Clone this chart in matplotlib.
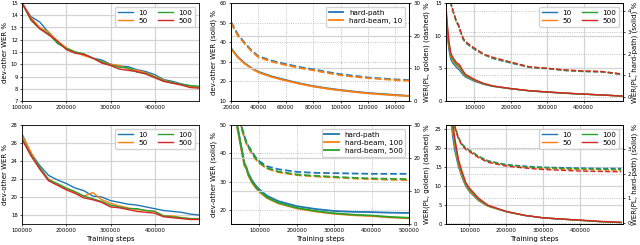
import matplotlib
matplotlib.use('Agg')
import matplotlib.pyplot as plt

plt.rcParams['font.family'] = ['DejaVu Sans']
plt.rcParams['xtick.labelsize'] = 3.9
plt.rcParams['ytick.labelsize'] = 3.9
plt.rcParams['axes.labelsize'] = 5.0
plt.rcParams['legend.fontsize'] = 5.2
plt.rcParams['axes.linewidth'] = 0.6
plt.rcParams['xtick.major.size'] = 1.6
plt.rcParams['ytick.major.size'] = 1.6
plt.rcParams['xtick.major.width'] = 0.5
plt.rcParams['ytick.major.width'] = 0.5
plt.rcParams['xtick.major.pad'] = 1.5
plt.rcParams['ytick.major.pad'] = 1.5
plt.rcParams['axes.labelpad'] = 2.0

# ---- data ----
beams = ['10', '50', '100', '500']
colors = ['#1f77b4', '#ff7f0e', '#2ca02c', '#d62728']

# left column: dev-other WER vs training steps
steps_a = [100000, 120000, 140000, 160000, 180000, 200000, 220000, 240000, 260000, 280000, 300000,
           320000, 340000, 360000, 380000, 400000, 420000, 440000, 460000, 480000, 500000]
wer_top = {
    '10':  [15.0, 13.9, 13.45, 12.6, 11.8, 11.3, 11.0, 10.8, 10.5, 10.35, 10.0, 9.85, 9.8, 9.55, 9.4, 9.15, 8.75, 8.6, 8.4, 8.25, 8.15],
    '50':  [15.0, 13.8, 13.0, 12.65, 11.9, 11.35, 11.0, 10.7, 10.5, 10.2, 10.0, 9.9, 9.6, 9.5, 9.3, 9.0, 8.7, 8.5, 8.35, 8.2, 8.1],
    '100': [15.0, 13.6, 12.9, 12.5, 11.7, 11.3, 11.0, 10.85, 10.5, 10.2, 9.95, 9.75, 9.7, 9.35, 9.25, 8.95, 8.65, 8.5, 8.35, 8.25, 8.2],
    '500': [15.0, 13.7, 12.9, 12.4, 11.9, 11.2, 10.9, 10.8, 10.5, 10.1, 9.9, 9.6, 9.5, 9.4, 9.2, 8.9, 8.6, 8.45, 8.3, 8.1, 8.05],
}
wer_bot = {
    '10':  [27.0, 24.9, 23.5, 22.4, 21.9, 21.5, 21.0, 20.7, 20.1, 20.0, 19.6, 19.4, 19.2, 19.1, 18.9, 18.7, 18.5, 18.4, 18.3, 18.1, 18.0],
    '50':  [26.9, 25.0, 23.2, 22.0, 21.4, 20.9, 20.5, 20.1, 20.5, 19.7, 19.3, 19.0, 18.8, 18.6, 18.5, 18.4, 17.9, 17.9, 17.7, 17.6, 17.6],
    '100': [26.5, 24.7, 23.3, 21.9, 21.5, 21.0, 20.6, 20.1, 19.8, 19.5, 19.1, 18.9, 18.7, 18.7, 18.5, 18.4, 17.9, 17.8, 17.7, 17.6, 17.55],
    '500': [26.4, 24.6, 23.1, 21.8, 21.3, 20.8, 20.4, 19.9, 19.7, 19.4, 18.9, 18.8, 18.6, 18.4, 18.3, 18.2, 17.8, 17.7, 17.6, 17.5, 17.5],
}

# middle top: hard-path vs hard-beam 10
steps_b = [20000, 25000, 30000, 35000, 40000, 50000, 60000, 70000, 80000, 90000, 100000,
           110000, 120000, 130000, 140000, 150000]
mid_top_solid = {
    'hard-path':     [37.0, 32.5, 29.3, 26.8, 24.9, 22.5, 20.7, 19.0, 17.6, 16.5, 15.6, 14.8, 14.1, 13.6, 13.1, 12.6],
    'hard-beam, 10': [36.6, 32.2, 29.0, 26.6, 24.6, 22.2, 20.4, 18.8, 17.4, 16.3, 15.4, 14.6, 13.9, 13.4, 12.9, 12.5],
}
mid_top_dashed = {
    'hard-path':     [24.2, 20.4, 17.8, 15.5, 13.7, 12.3, 11.3, 10.4, 9.7, 8.9, 8.2, 7.7, 7.2, 6.9, 6.6, 6.4],
    'hard-beam, 10': [23.8, 20.0, 17.5, 15.2, 13.4, 12.0, 11.0, 10.1, 9.4, 8.6, 7.9, 7.4, 7.0, 6.7, 6.4, 6.2],
}

# middle bottom: hard-path vs hard-beam 100 / 500
steps_c = [36000, 40000, 50000, 60000, 65000, 70000, 80000, 90000, 100000, 120000, 150000,
           200000, 250000, 300000, 350000, 400000, 450000, 500000]
mid_bot_solid = {
    'hard-path':      [54, 50.5, 43.5, 36.5, 35.0, 33.0, 30.5, 28.6, 27.2, 25.0, 23.1, 21.3, 20.3, 19.6, 19.3, 19.2, 19.0, 18.9],
    'hard-beam, 100': [53, 49.5, 42.5, 35.5, 34.5, 32.2, 29.6, 27.8, 26.3, 24.2, 22.3, 20.5, 19.4, 18.6, 18.1, 17.8, 17.3, 17.0],
    'hard-beam, 500': [54, 50.0, 43.0, 36.0, 35.0, 32.6, 30.0, 28.1, 26.6, 24.4, 22.5, 20.7, 19.6, 18.8, 18.3, 18.0, 17.5, 17.2],
}
mid_bot_dashed = {
    'hard-path':      [38, 35.5, 30.5, 26.6, 25.0, 23.8, 21.9, 20.2, 19.0, 17.5, 16.6, 15.8, 15.5, 15.4, 15.3, 15.2, 15.2, 15.2],
    'hard-beam, 100': [37, 34.5, 29.8, 26.0, 24.4, 23.2, 21.3, 19.6, 18.4, 16.8, 15.7, 14.8, 14.4, 14.1, 13.8, 13.6, 13.4, 13.3],
    'hard-beam, 500': [37.5, 35.0, 30.2, 26.3, 24.7, 23.5, 21.6, 19.9, 18.6, 17.0, 15.9, 15.0, 14.6, 14.3, 14.0, 13.8, 13.7, 13.6],
}

# right top: PL WER (hard-path solid on right axis, golden dashed on left axis)
steps_d = [22000, 26000, 30000, 35000, 40000, 50000, 60000, 65000, 75000, 100000, 125000,
           150000, 200000, 250000, 300000, 350000, 400000, 450000, 505000]
pl_top_hp = {
    '10':  [3.7, 2.8, 2.2, 1.75, 1.58, 1.38, 1.22, 1.1, 0.92, 0.72, 0.58, 0.48, 0.37, 0.27, 0.21, 0.16, 0.12, 0.08, 0.03],
    '50':  [3.9, 3.0, 2.35, 1.88, 1.68, 1.47, 1.33, 1.18, 0.97, 0.76, 0.6, 0.49, 0.37, 0.28, 0.22, 0.16, 0.12, 0.08, 0.03],
    '100': [4.0, 3.1, 2.45, 1.95, 1.75, 1.52, 1.38, 1.22, 1.0, 0.78, 0.6, 0.5, 0.37, 0.28, 0.22, 0.16, 0.12, 0.08, 0.03],
    '500': [4.2, 3.3, 2.6, 2.05, 1.85, 1.6, 1.47, 1.3, 1.05, 0.8, 0.62, 0.5, 0.38, 0.28, 0.22, 0.17, 0.12, 0.08, 0.03],
}
steps_e = [34000, 40000, 50000, 57000, 62000, 70000, 80000, 100000, 125000, 150000, 200000,
           250000, 280000, 300000, 350000, 400000, 450000, 505000]
pl_top_gold = {
    '10':  [15.1, 13.9, 12.1, 11.4, 10.5, 9.3, 8.7, 7.9, 7.1, 6.5, 5.8, 5.15, 5.0, 4.95, 4.65, 4.5, 4.45, 4.05],
    '50':  [15.2, 14.0, 12.2, 11.5, 10.6, 9.4, 8.8, 8.0, 7.1, 6.6, 5.9, 5.2, 5.05, 5.0, 4.7, 4.55, 4.5, 4.1],
    '100': [15.2, 14.0, 12.2, 11.5, 10.6, 9.4, 8.8, 8.0, 7.2, 6.6, 5.9, 5.2, 5.05, 5.0, 4.7, 4.55, 4.5, 4.1],
    '500': [15.3, 14.1, 12.3, 11.6, 10.7, 9.5, 8.9, 8.1, 7.2, 6.7, 5.95, 5.25, 5.1, 5.0, 4.75, 4.6, 4.5, 4.15],
}

# right bottom
steps_f = [38000, 45000, 50000, 55000, 60000, 70000, 80000, 90000, 100000, 125000, 150000,
           200000, 250000, 300000, 350000, 400000, 450000, 510000]
pl_bot_hp = {
    '10':  [6.0, 5.0, 4.2, 3.5, 3.0, 2.3, 1.85, 1.5, 1.27, 0.9, 0.68, 0.45, 0.3, 0.2, 0.15, 0.1, 0.05, 0.01],
    '50':  [6.1, 5.2, 4.4, 3.7, 3.2, 2.4, 1.9, 1.55, 1.3, 0.92, 0.68, 0.45, 0.3, 0.2, 0.15, 0.1, 0.05, 0.01],
    '100': [6.3, 5.4, 4.6, 3.9, 3.35, 2.5, 2.0, 1.6, 1.35, 0.95, 0.7, 0.46, 0.3, 0.2, 0.15, 0.1, 0.05, 0.01],
    '500': [6.5, 5.6, 4.9, 4.1, 3.5, 2.6, 2.1, 1.65, 1.42, 1.0, 0.72, 0.46, 0.3, 0.2, 0.15, 0.11, 0.06, 0.02],
}
pl_bot_gold = {
    '10':  [34, 31, 29, 27.5, 26, 22.8, 21.0, 20.0, 19.4, 17.8, 16.6, 15.6, 15.2, 14.9, 14.8, 14.7, 14.6, 14.6],
    '50':  [33.5, 30.5, 28.7, 27.2, 25.8, 22.6, 20.8, 19.8, 19.2, 17.6, 16.4, 15.4, 14.9, 14.6, 14.4, 14.3, 14.2, 14.1],
    '100': [33.8, 30.8, 28.9, 27.4, 25.9, 22.7, 20.9, 19.9, 19.3, 17.7, 16.5, 15.5, 15.0, 14.8, 14.6, 14.5, 14.4, 14.3],
    '500': [33, 30, 28.3, 27, 25.5, 22.4, 20.6, 19.6, 19.0, 17.4, 16.2, 15.2, 14.7, 14.3, 14.1, 13.9, 13.8, 13.7],
}

# ---- layout (pixel boxes: left, right, top, bottom) ----
W, H = 640, 245
fig = plt.figure(figsize=(6.4, 2.45), dpi=100)


def box(l, r, t, b):
    return [l / W, 1 - b / H, (r - l) / W, (b - t) / H]


cols = [(22, 199), (231, 409), (446, 623)]
rows = [(3, 101), (125, 224)]

LW = 1.0
solid_grid = dict(color='#d4d4d4', linewidth=0.9, linestyle='-')
dot_grid = dict(color='#b0b0b0', linewidth=0.6, linestyle=':')
leg_kw = dict(loc='upper right', framealpha=0.85, edgecolor='#cccccc',
              handlelength=2.0, borderpad=0.4, labelspacing=0.3)

# left column
for r, data, ylim, yt in [(0, wer_top, (7, 15), range(7, 16)),
                          (1, wer_bot, (17, 28), range(18, 29, 2))]:
    ax = fig.add_axes(box(*cols[0], *rows[r]))
    for b, c in zip(beams, colors):
        ax.plot(steps_a, data[b], color=c, lw=LW, label=b)
    ax.set_xlim(100000, 500000)
    ax.set_ylim(*ylim)
    ax.set_yticks(list(yt))
    ax.set_xticks([100000, 200000, 300000, 400000])
    ax.grid(**solid_grid)
    ax.set_axisbelow(True)
    ax.set_ylabel('dev-other WER %')
    ax.legend(ncol=2, columnspacing=1.5, **leg_kw)
    if r == 1:
        ax.set_xlabel('Training steps')

# middle column
mid_cfg = [
    (0, steps_b, mid_top_solid, mid_top_dashed, (20000, 150000), (10, 60), range(20000, 150000, 20000),
     range(10, 61, 10)),
    (1, steps_c, mid_bot_solid, mid_bot_dashed, (24000, 500000), (15, 50), range(100000, 500001, 100000),
     range(20, 51, 10)),
]
for r, st, sol, das, xl, yl, xt, yt in mid_cfg:
    ax = fig.add_axes(box(*cols[1], *rows[r]))
    ax2 = ax.twinx()
    handles = []
    for (name, vals), c in zip(sol.items(), colors):
        h, = ax.plot(st, vals, color=c, lw=1.3, label=name)
        handles.append(h)
    for (name, vals), c in zip(das.items(), colors):
        ax2.plot(st, vals, color=c, lw=1.3, ls='--')
    ax.set_xlim(*xl)
    ax.set_ylim(*yl)
    ax.set_xticks(list(xt))
    ax.set_yticks(list(yt))
    ax2.set_ylim(0, 30)
    ax2.set_yticks([0, 10, 20, 30])
    ax.grid(**dot_grid)
    ax2.grid(axis='y', **solid_grid)
    ax.set_axisbelow(True)
    ax2.set_axisbelow(True)
    ax.set_ylabel('dev-other WER (solid) %')
    # the golden-WER label is shared with the left axis of the right column
    ax2.set_ylabel('WER(PL, golden) (dashed) %', labelpad=2.5)
    ax2.legend(handles=handles, **leg_kw)
    if r == 1:
        ax.set_xlabel('Training steps')

# right column
right_cfg = [
    (0, steps_e, pl_top_gold, steps_d, pl_top_hp, (22000, 508000), (0, 15), [0, 5, 10, 15],
     (-0.2, 4.36), [0, 1, 2, 3, 4]),
    (1, steps_f, pl_bot_gold, steps_f, pl_bot_hp, (36600, 515000), (0, 26), [0, 5, 10, 15, 20, 25],
     (-0.05, 4.0), [0, 1, 2, 3]),
]
for r, sg, gold, sh, hp, xl, yl, yt, y2l, y2t in right_cfg:
    ax = fig.add_axes(box(*cols[2], *rows[r]))
    ax2 = ax.twinx()
    for b, c in zip(beams, colors):
        ax.plot(sg, gold[b], color=c, lw=LW, ls='--')
        ax2.plot(sh, hp[b], color=c, lw=LW, label=b)
    ax.set_xlim(*xl)
    ax.set_ylim(*yl)
    ax.set_yticks(yt)
    ax.set_xticks([100000, 200000, 300000, 400000])
    ax2.set_ylim(*y2l)
    ax2.set_yticks(y2t)
    ax.grid(**solid_grid)
    ax2.grid(axis='y', **dot_grid)
    ax.set_axisbelow(True)
    ax2.set_axisbelow(True)
    ax2.set_ylabel('WER(PL, hard-path) (solid) %', labelpad=0.8)
    ax2.legend(ncol=2, columnspacing=1.5, **leg_kw)
    if r == 1:
        ax.set_xlabel('Training steps')

fig.savefig('out.png', dpi=100)
